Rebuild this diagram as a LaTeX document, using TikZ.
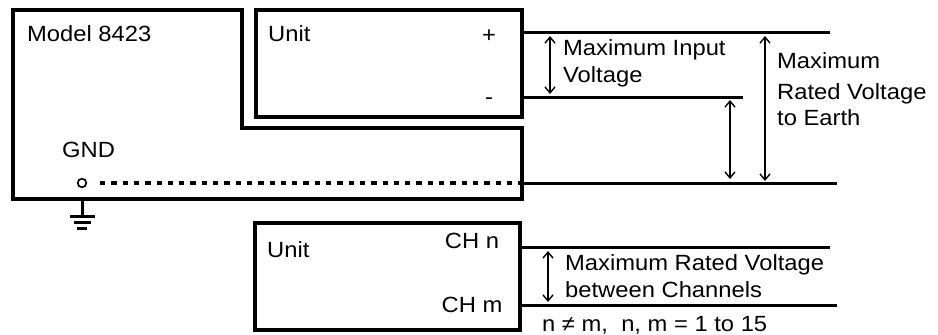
\documentclass[tikz,border=0pt]{standalone}
\usepackage{fontspec}
\setmainfont{Liberation Sans}[FakeStretch=1.08]
\usetikzlibrary{arrows.meta}
\begin{document}
\begin{tikzpicture}[x=1pt,y=-1pt,
  box/.style={line width=3.4pt,line join=miter},
  wire/.style={line width=3pt},
  dim/.style={line width=1.4pt,{Straight Barb[length=6pt,width=10pt]}-{Straight Barb[length=6pt,width=10pt]}},
  lbl/.style={anchor=base west,inner sep=0pt,font=\fontsize{22}{26}\selectfont},
  lblc/.style={anchor=base,inner sep=0pt,font=\fontsize{22}{26}\selectfont}]
\useasboundingbox (0,0) rectangle (938,335);
% Model 8423 housing
\draw[box] (13,10) -- (242,10) -- (242,128) -- (522,128) -- (522,199) -- (13,199) -- cycle;
\node[lbl] (model) at (27,41) {Model 8423};
% upper unit
\draw[box] (256,10) rectangle (522,117);
\node[lbl] (unit1) at (268,41) {Unit};
\node[lblc] (plus) at (489,42) {+};
\node[lblc] (minus) at (489,104) {-};
% GND
\node[lbl] (gnd) at (62,157) {GND};
\node[circle,draw,line width=1.7pt,minimum size=8.6pt,inner sep=0pt] (gc) at (82,183) {};
\coordinate (g0) at (82,199);
\coordinate (g1) at (82,216);
\draw[wire] (g0) -- (g1);
\draw[wire] (70,216) -- (95,216);
\draw[wire] (74,222) -- (91,222);
\draw[wire] (77,228) -- (87,228);
% wires
\coordinate (d0) at (100,183);
\coordinate (p0) at (522,32);  \coordinate (p1) at (830,32);
\coordinate (m0) at (522,97);  \coordinate (m1) at (743,97);
\coordinate (e0) at (522,183); \coordinate (e1) at (837,183);
\draw[wire] (p0) -- (p1);
\draw[wire] (m0) -- (m1);
\draw[wire] (e0) -- (e1);
\draw[line width=3.2pt,dash pattern=on 5.3pt off 6pt] (d0) -- (e0);
% dimension arrows top
\coordinate (a1t) at (550,36); \coordinate (a1b) at (550,94);
\draw[dim] (a1t) -- (a1b);
\coordinate (a2t) at (730,100); \coordinate (a2b) at (730,179);
\draw[dim] (a2t) -- (a2b);
\coordinate (a3t) at (765,36); \coordinate (a3b) at (765,181);
\draw[dim] (a3t) -- (a3b);
\node[lbl] (mi1) at (563,55) {Maximum Input};
\node[lbl] (mi2) at (563,82) {Voltage};
\node[lbl] (me1) at (777,68) {Maximum};
\node[lbl] (me2) at (777,99) {Rated Voltage};
\node[lbl] (me3) at (777,125) {to Earth};
% lower unit
\draw[box] (255,223) rectangle (520,330);
\node[lbl] (unit2) at (267,257) {Unit};
\node[lblc] (chn) at (472,248) {CH n};
\node[lblc] (chm) at (472,312) {CH m};
\coordinate (n0) at (520,247); \coordinate (n1) at (830,247);
\coordinate (k0) at (520,305); \coordinate (k1) at (837,305);
\draw[wire] (n0) -- (n1);
\draw[wire] (k0) -- (k1);
\coordinate (a4t) at (548,251); \coordinate (a4b) at (548,302);
\draw[dim] (a4t) -- (a4b);
\node[lbl] (mc1) at (565,270) {Maximum Rated Voltage};
\node[lbl] (mc2) at (565,297) {between Channels};
\node[lbl] (cond) at (542,331) {n ≠ m,\ \ n, m = 1 to 15};
\end{tikzpicture}
\end{document}
